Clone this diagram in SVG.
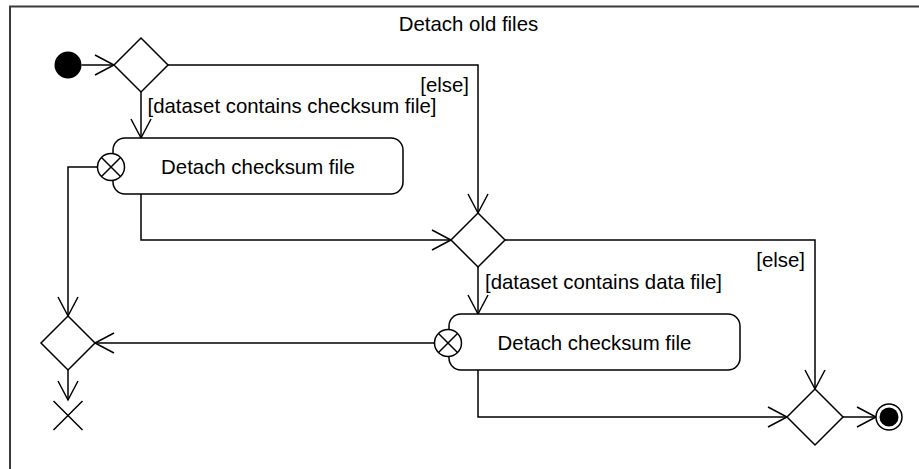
<svg xmlns="http://www.w3.org/2000/svg" width="919" height="469" viewBox="0 0 919 469">
  <defs>
    <style>
      text { font-family: "Liberation Sans", Arial, sans-serif; font-size: 20.4px; fill: #000; }
      .shape { fill: #fff; stroke: #000; stroke-width: 1.5; }
      .edge { fill: none; stroke: #000; stroke-width: 1.5; }
      .frame { fill: none; stroke: #3a3a3a; stroke-width: 2; }
    </style>
    <marker id="open-arrow" markerUnits="userSpaceOnUse" markerWidth="24" markerHeight="24" refX="20" refY="11" orient="auto">
      <path d="M1,1 L20,11 L1,21" fill="none" stroke="#000" stroke-width="1.5"/>
    </marker>
  </defs>

  <!-- activity frame -->
  <g id="frame">
    <path class="frame" d="M10,469 V6.5 H919"/>
    <text x="468.5" y="31" text-anchor="middle">Detach old files</text>
  </g>

  <!-- control flows -->
  <g id="connectors">
    <path class="edge" d="M81.5,65 H114" marker-end="url(#open-arrow)"/>
    <path class="edge" d="M141,92 V138" marker-end="url(#open-arrow)"/>
    <path class="edge" d="M168,65 H478 V213" marker-end="url(#open-arrow)"/>
    <path class="edge" d="M141,194 V240 H451" marker-end="url(#open-arrow)"/>
    <path class="edge" d="M97.5,167 H68 V316" marker-end="url(#open-arrow)"/>
    <path class="edge" d="M478,267 V314" marker-end="url(#open-arrow)"/>
    <path class="edge" d="M505,240 H815 V389" marker-end="url(#open-arrow)"/>
    <path class="edge" d="M434.5,343 H95" marker-end="url(#open-arrow)"/>
    <path class="edge" d="M68,370 V400" marker-end="url(#open-arrow)"/>
    <path class="edge" d="M478,370 V417 H787" marker-end="url(#open-arrow)"/>
    <path class="edge" d="M843,417 H876" marker-end="url(#open-arrow)"/>
    <text x="147.5" y="113">[dataset contains checksum file]</text>
    <text x="469" y="92" text-anchor="end">[else]</text>
    <text x="485" y="289">[dataset contains data file]</text>
    <text x="805" y="267" text-anchor="end">[else]</text>
  </g>

  <g id="initial">
    <circle cx="68" cy="65" r="13.5" fill="#000"/>
  </g>

  <g id="decision-checksum">
    <polygon class="shape" points="141,38 168,65 141,92 114,65"/>
  </g>

  <g id="detach-checksum-1">
    <rect class="shape" x="113" y="138" width="290" height="56" rx="12" ry="12"/>
    <circle class="shape" cx="111" cy="167" r="13.5"/>
    <path class="edge" d="M101.5,157.5 L120.5,176.5 M120.5,157.5 L101.5,176.5"/>
    <text x="258" y="174" text-anchor="middle">Detach checksum file</text>
  </g>

  <g id="decision-data">
    <polygon class="shape" points="478,213 505,240 478,267 451,240"/>
  </g>

  <g id="detach-checksum-2">
    <rect class="shape" x="449" y="314" width="291" height="56" rx="12" ry="12"/>
    <circle class="shape" cx="448" cy="343" r="13.5"/>
    <path class="edge" d="M438.5,333.5 L457.5,352.5 M457.5,333.5 L438.5,352.5"/>
    <text x="594.5" y="350" text-anchor="middle">Detach checksum file</text>
  </g>

  <g id="merge-failure">
    <polygon class="shape" points="68,316 95,343 68,370 41,343"/>
  </g>

  <g id="flow-final">
    <path class="edge" d="M53.5,401 L82.5,430 M82.5,401 L53.5,430"/>
  </g>

  <g id="merge-done">
    <polygon class="shape" points="815,389 843,417 815,445 787,417"/>
  </g>

  <g id="activity-final">
    <circle cx="889" cy="417" r="13" fill="#fff" stroke="#000" stroke-width="1.5"/>
    <circle cx="889" cy="417" r="9.5" fill="#000"/>
  </g>
</svg>
